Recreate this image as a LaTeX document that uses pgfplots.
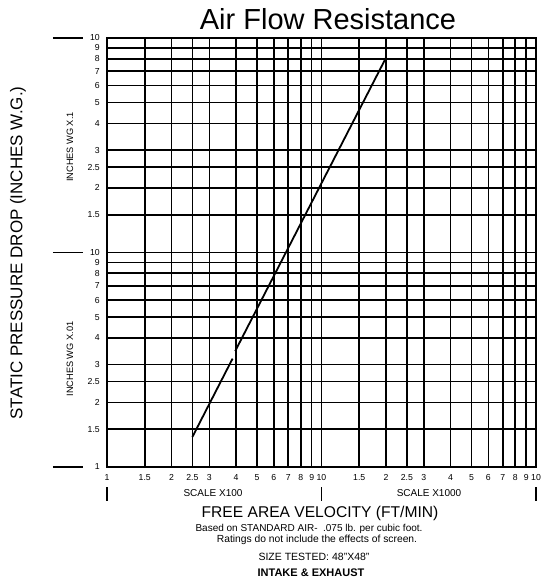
\documentclass[border=0pt]{standalone}
\usepackage{fontspec}
\setmainfont{Liberation Sans}
\usepackage{pgfplots}
\pgfplotsset{compat=1.18}
\begin{document}
\begin{tikzpicture}
\useasboundingbox (-107pt,-114pt) rectangle (435pt,467pt);
\begin{axis}[
  at={(0,0)}, anchor=south west,
  scale only axis, width=429pt, height=429pt,
  xmode=log, ymode=log,
  xmin=1, xmax=100, ymin=1, ymax=100,
  xtick={1,1.5,2,2.5,3,4,5,6,7,8,9,10,15,20,25,30,40,50,60,70,80,90,100},
  xticklabels={1,1.5,2,2.5,3,4,5,6,7,8,9,10,1.5,2,2.5,3,4,5,6,7,8,9,10},
  ytick={1,1.5,2,2.5,3,4,5,6,7,8,9,10,15,20,25,30,40,50,60,70,80,90,100},
  yticklabels={1,1.5,2,2.5,3,4,5,6,7,8,9,10,1.5,2,2.5,3,4,5,6,7,8,9,10},
  minor tick num=0,
  tick style={draw=none},
  grid=major,
  major grid style={black, line width=1.6pt},
  axis line style={black, line width=1.8pt},
  ticklabel style={font=\fontsize{8.7}{9}\selectfont, inner sep=0pt},
  yticklabel style={xshift=-7pt},
  xticklabel style={yshift=-7pt},
  clip=false,
]
\addplot[black, line width=1.8pt] coordinates {(2.5,1.38) (3.85,3.2)};
\addplot[black, line width=1.8pt] coordinates {(3.96,3.47) (20,81)};
\end{axis}
% title and labels
\node[font=\fontsize{29}{30}\selectfont] at (221pt,448pt) {Air Flow Resistance};
\node[font=\fontsize{17}{18}\selectfont, rotate=90] at (-89pt,214pt) {STATIC PRESSURE DROP (INCHES W.G.)};
\node[font=\fontsize{9.2}{10}\selectfont, rotate=90] at (-37pt,320pt) {INCHES WG X.1};
\node[font=\fontsize{9.2}{10}\selectfont, rotate=90] at (-37pt,108pt) {INCHES WG X.01};
\draw[line width=1.6pt] (-54pt,429pt) -- (-24pt,429pt);
\draw[line width=1.6pt] (-54pt,214.5pt) -- (-24pt,214.5pt);
\draw[line width=1.6pt] (-54pt,0pt) -- (-24pt,0pt);
\draw[line width=1.6pt] (0pt,-20pt) -- (0pt,-34pt);
\draw[line width=1.6pt] (214.5pt,-20pt) -- (214.5pt,-34pt);
\draw[line width=1.6pt] (429pt,-20pt) -- (429pt,-34pt);
\node[font=\fontsize{10}{11}\selectfont] at (106pt,-26pt) {SCALE X100};
\node[font=\fontsize{10}{11}\selectfont] at (322pt,-26pt) {SCALE X1000};
\node[font=\fontsize{15.6}{17}\selectfont] at (213pt,-46pt) {FREE AREA VELOCITY (FT/MIN)};
\node[font=\fontsize{10}{11}\selectfont] at (202pt,-62pt) {Based on STANDARD AIR-\ \ .075 lb. per cubic foot.};
\node[font=\fontsize{10.3}{11}\selectfont] at (210pt,-73pt) {Ratings do not include the effects of screen.};
\node[font=\fontsize{10.5}{11}\selectfont] at (207pt,-90pt) {SIZE TESTED: 48"X48"};
\node[font=\bfseries\fontsize{11}{12}\selectfont] at (204pt,-106pt) {INTAKE \& EXHAUST};
\end{tikzpicture}
\end{document}
